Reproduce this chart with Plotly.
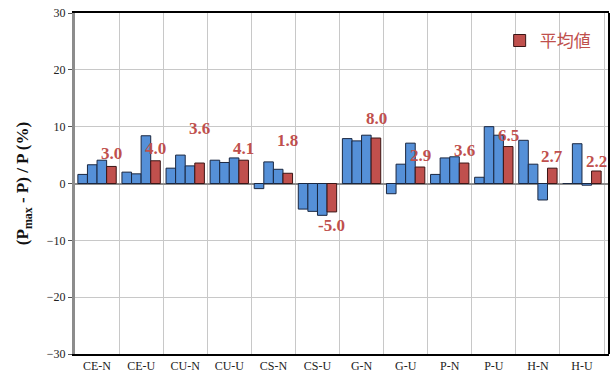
import plotly.graph_objects as go

# Categories and three individual cases per category, plus their mean
categories = ["CE-N", "CE-U", "CU-N", "CU-U", "CS-N", "CS-U",
              "G-N", "G-U", "P-N", "P-U", "H-N", "H-U"]
case_1 = [1.6, 2.0, 2.7, 4.1, -0.9, -4.5, 7.9, -1.8, 1.6, 1.1, 7.6, 0.0]
case_2 = [3.3, 1.7, 5.0, 3.7, 3.8, -4.9, 7.5, 3.4, 4.5, 10.0, 3.4, 7.0]
case_3 = [4.1, 8.4, 3.1, 4.5, 2.5, -5.6, 8.5, 7.1, 4.7, 8.5, -2.9, -0.3]
mean_values = [3.0, 4.0, 3.6, 4.1, 1.8, -5.0, 8.0, 2.9, 3.6, 6.5, 2.7, 2.2]

# vertical offset (px) of each mean label from the end of its bar
label_offsets = [13, 12, 35, 12, 33, -14, 20, 12, 13, 11, 12, 10]

BLUE = "#5590D8"
RED = "#C0504D"
EDGE = "#1A2740"
SERIF = "Liberation Serif, Times New Roman, serif"

fig = go.Figure()
for vals in (case_1, case_2, case_3):
    fig.add_trace(go.Bar(
        x=categories, y=vals, marker=dict(color=BLUE, line=dict(color=EDGE, width=1)),
        showlegend=False, hoverinfo="x+y",
    ))
fig.add_trace(go.Bar(
    x=categories, y=mean_values, name="平均値",
    marker=dict(color=RED, line=dict(color="#3A1515", width=1)),
))

bargap = 0.13
slot = (1 - bargap) / 4
for cat, val, off in zip(categories, mean_values, label_offsets):
    fig.add_annotation(
        x=cat, y=val, xref="x", yref="y", text=f"<b>{val:.1f}</b>",
        showarrow=False, xshift=1.5 * slot * 44.5, yshift=off,
        yanchor="middle", xanchor="center",
        font=dict(family=SERIF, size=17, color=RED),
    )

# right-hand frame edge
fig.add_shape(type="line", xref="paper", yref="paper", x0=1, x1=1, y0=0, y1=1,
              line=dict(color="black", width=2))

fig.update_layout(
    width=614, height=380,
    margin=dict(l=75, r=5, t=13, b=26),
    paper_bgcolor="white", plot_bgcolor="white",
    barmode="group", bargap=bargap, bargroupgap=0,
    font=dict(family=SERIF, size=12, color="#222"),
    legend=dict(x=0.975, y=0.918, xanchor="right", yanchor="middle",
                bgcolor="rgba(0,0,0,0)", font=dict(family="Noto Sans CJK JP", size=17, color=RED),
                itemwidth=30),
    xaxis=dict(
        type="category", tickson="boundaries", showgrid=True,
        gridcolor="#C8C8C8", gridwidth=1, ticks="", showline=True,
        linecolor="black", linewidth=2, mirror=True,
        tickfont=dict(family=SERIF, size=12, color="#222"),
    ),
    yaxis=dict(
        range=[-30, 30], dtick=10, showgrid=True, gridcolor="#C8C8C8", gridwidth=1,
        zeroline=True, zerolinecolor="#8C8C8C", zerolinewidth=1.5,
        showline=True, linecolor="#8C8C8C", linewidth=3,
        ticks="outside", ticklen=4, tickcolor="#555",
        tickfont=dict(family=SERIF, size=12, color="#222"),
        title=dict(text="<b>(P<sub>max</sub> - P) / P (%)</b>",
                   font=dict(family=SERIF, size=17, color="#111"), standoff=14),
    ),
)

fig.write_html("out.html")
